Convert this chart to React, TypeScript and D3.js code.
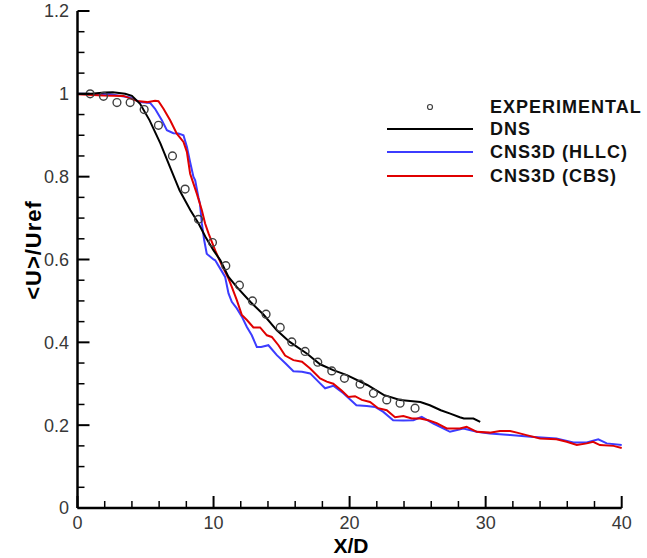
import React from "react";
import * as d3 from "d3";

const expX = [0.93, 1.91, 2.9, 3.87, 4.9, 5.95, 6.98, 7.91, 8.89, 9.92, 10.9, 11.9, 12.86, 13.86, 14.9, 15.75, 16.73, 17.66, 18.69, 19.62, 20.77, 21.75, 22.73, 23.71, 24.81];
const expY = [1.0, 0.994, 0.979, 0.979, 0.962, 0.924, 0.85, 0.77, 0.697, 0.641, 0.585, 0.538, 0.5, 0.468, 0.436, 0.401, 0.378, 0.352, 0.331, 0.313, 0.299, 0.277, 0.261, 0.253, 0.241];

const dnsX = [0, 1, 2, 2.6, 3.5, 4, 4.6, 5.3, 6.1, 6.8, 7.5, 8.3, 8.9, 9.4, 10, 10.5, 11.1, 11.7, 12.7, 13.7, 14.65, 15.6, 16.85, 17.83, 18.8, 19.8, 21.3, 22.5, 23.7, 25.2, 25.9, 26.7, 27.4, 28.1, 28.4, 29.1, 29.6];
const dnsY = [1.0, 1.0, 1.003, 1.004, 1.0, 0.995, 0.976, 0.936, 0.88, 0.823, 0.767, 0.719, 0.687, 0.655, 0.622, 0.598, 0.558, 0.534, 0.498, 0.466, 0.429, 0.401, 0.373, 0.347, 0.333, 0.321, 0.297, 0.273, 0.261, 0.256, 0.248, 0.236, 0.228, 0.219, 0.216, 0.216, 0.208];

const hllcX = [0, 2.4, 3.87, 4.6, 5.34, 5.7, 6.2, 6.57, 7.05, 7.42, 7.79, 8.04, 8.28, 8.52, 8.65, 8.89, 9.0, 9.14, 9.31, 9.5, 9.63, 10.0, 10.12, 10.49, 10.85, 11.1, 11.34, 11.71, 12.08, 12.45, 12.81, 13.18, 13.5, 14.03, 14.65, 15.26, 15.87, 16.5, 17.1, 17.83, 18.2, 18.8, 19.54, 20.5, 21.26, 21.87, 22.48, 23.2, 23.95, 24.69, 25.3, 26.16, 27.38, 28.36, 29.35, 30.3, 31.8, 33.3, 35.2, 36.45, 37.43, 38.28, 38.9, 40];
const hllcY = [1.0, 0.999, 0.991, 0.98, 0.978, 0.964, 0.936, 0.912, 0.905, 0.904, 0.9, 0.872, 0.835, 0.8, 0.791, 0.75, 0.735, 0.687, 0.647, 0.614, 0.61, 0.6, 0.598, 0.578, 0.558, 0.518, 0.498, 0.482, 0.462, 0.437, 0.417, 0.389, 0.389, 0.393, 0.369, 0.35, 0.33, 0.329, 0.325, 0.301, 0.289, 0.295, 0.277, 0.248, 0.246, 0.244, 0.232, 0.212, 0.211, 0.212, 0.22, 0.204, 0.184, 0.192, 0.184, 0.18, 0.176, 0.172, 0.168, 0.158, 0.158, 0.166, 0.156, 0.152];

const cbsX = [0, 1.91, 3.38, 4.36, 5.1, 5.7, 5.95, 6.32, 6.81, 7.3, 7.79, 8.04, 8.28, 8.77, 9.14, 9.38, 9.63, 10.12, 10.61, 11.1, 11.34, 11.71, 12.08, 12.45, 12.93, 13.42, 13.92, 14.28, 14.77, 15.26, 15.87, 16.5, 17.1, 17.83, 18.32, 18.8, 19.43, 19.91, 20.4, 20.9, 21.5, 22.1, 22.73, 23.34, 23.95, 24.57, 25.18, 25.79, 26.4, 27.14, 28.1, 28.6, 29.35, 30.3, 31.06, 31.8, 32.3, 33.0, 34.0, 35.2, 35.96, 36.7, 37.43, 37.9, 38.4, 39.4, 40];
const cbsY = [0.999, 0.996, 0.995, 0.983, 0.98, 0.983, 0.982, 0.964, 0.936, 0.904, 0.884, 0.86, 0.807, 0.759, 0.719, 0.687, 0.663, 0.622, 0.586, 0.554, 0.534, 0.502, 0.466, 0.454, 0.436, 0.436, 0.417, 0.413, 0.393, 0.368, 0.357, 0.353, 0.337, 0.313, 0.305, 0.3, 0.283, 0.268, 0.27, 0.261, 0.256, 0.241, 0.236, 0.219, 0.222, 0.216, 0.216, 0.212, 0.205, 0.192, 0.192, 0.196, 0.184, 0.182, 0.186, 0.186, 0.182, 0.176, 0.168, 0.166, 0.16, 0.152, 0.156, 0.16, 0.152, 0.15, 0.145];

const xTicks = [0, 10, 20, 30, 40];
const yTicks = [0, 0.2, 0.4, 0.6, 0.8, 1, 1.2];
const legendLabels = ["EXPERIMENTAL", "DNS", "CNS3D (HLLC)", "CNS3D (CBS)"];

const BLUE = "#3c3cff";
const RED = "#e00000";

export default function App() {
  const x = d3.scaleLinear().domain([0, 40]).range([77.5, 621.7]);
  const y = d3.scaleLinear().domain([0, 1.2]).range([508, 11]);
  const mk = (xs: number[], ys: number[]) =>
    d3.line<number>().x((d, i) => x(xs[i])).y((d) => y(d))(ys) || "";

  const xMinor = d3.range(0, 40.001, 2).filter((v) => v % 10 !== 0);
  const yMinor = d3.range(0, 1.2001, 0.05).filter((v) => Math.abs(v / 0.2 - Math.round(v / 0.2)) > 0.01);
  const font = "'Liberation Sans', Arial, sans-serif";
  const x0 = x(0), yb = y(0);

  const legendY = [107, 129, 152, 176];

  return (
    <svg width={647} height={558} style={{ position: "absolute", left: 0, top: 0, background: "#fff" }}>
      <rect width={647} height={558} fill="#fff" />
      {/* series */}
      <path d={mk(hllcX, hllcY)} fill="none" stroke={BLUE} strokeWidth={2} />
      <path d={mk(cbsX, cbsY)} fill="none" stroke={RED} strokeWidth={2} />
      <path d={mk(dnsX, dnsY)} fill="none" stroke="#000" strokeWidth={2} />
      {expY.map((v, i) => (
        <circle key={i} cx={x(expX[i])} cy={y(v)} r={3.9} fill="none" stroke="#404040" strokeWidth={1.4} />
      ))}
      {/* axes */}
      <line x1={x0} x2={x0} y1={y(1.2)} y2={yb} stroke="#000" strokeWidth={2.5} />
      <line x1={x0} x2={x(40)} y1={yb} y2={yb} stroke="#000" strokeWidth={2.5} />
      {yTicks.map((t) => (
        <g key={"yt" + t}>
          <line x1={x0} x2={x0 + 12} y1={y(t)} y2={y(t)} stroke="#000" strokeWidth={2} />
          <text x={69} y={y(t)} dy="0.36em" textAnchor="end" fontFamily={font} fontSize={18} fill="#383838">
            {t}
          </text>
        </g>
      ))}
      {yMinor.map((t) => (
        <line key={"ym" + t} x1={x0} x2={x0 + 7} y1={y(t)} y2={y(t)} stroke="#000" strokeWidth={1.5} />
      ))}
      {xTicks.map((t) => (
        <g key={"xt" + t}>
          <line x1={x(t)} x2={x(t)} y1={yb} y2={yb - 12} stroke="#000" strokeWidth={2} />
          <text x={x(t)} y={529} textAnchor="middle" fontFamily={font} fontSize={18} fill="#383838">
            {t}
          </text>
        </g>
      ))}
      {xMinor.map((t) => (
        <line key={"xm" + t} x1={x(t)} x2={x(t)} y1={yb} y2={yb - 7} stroke="#000" strokeWidth={1.5} />
      ))}
      {/* axis titles */}
      <text x={351} y={553} textAnchor="middle" fontFamily={font} fontWeight="bold" fontSize={21} fill="#000">
        X/D
      </text>
      <text
        transform={`translate(41,250) rotate(-90)`}
        textAnchor="middle"
        fontFamily={font}
        fontWeight="bold"
        fontSize={22}
        letterSpacing={1}
        fill="#000"
      >
        {"<U>/Uref"}
      </text>
      {/* legend */}
      <circle cx={430} cy={legendY[0]} r={2.5} fill="none" stroke="#404040" strokeWidth={1.2} />
      <line x1={387} x2={473} y1={legendY[1]} y2={legendY[1]} stroke="#000" strokeWidth={2} />
      <line x1={387} x2={473} y1={legendY[2]} y2={legendY[2]} stroke={BLUE} strokeWidth={2} />
      <line x1={387} x2={473} y1={legendY[3]} y2={legendY[3]} stroke={RED} strokeWidth={2} />
      {legendLabels.map((l, i) => (
        <text key={l} x={490} y={legendY[i]} dy="0.36em" fontFamily={font} fontWeight="bold" fontSize={18} letterSpacing={1} fill="#111">
          {l}
        </text>
      ))}
    </svg>
  );
}
